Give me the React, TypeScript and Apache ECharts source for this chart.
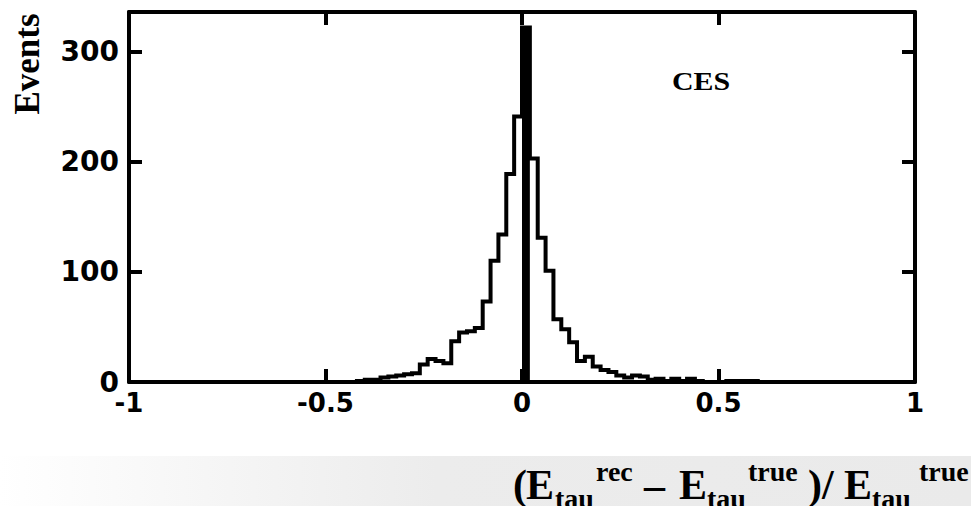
import React, { useEffect, useRef } from "react";
import * as echarts from "echarts";

// Histogram of (E_rec - E_true)/E_true, bin width 0.02 starting at -0.42
const binStart = -0.42;
const binWidth = 0.02;
const counts = [
  1, 2, 2, 4, 5, 6, 7, 8, 16, 21, 19, 17, 37, 45, 46, 49, 73, 110, 134, 189, 241,
  322, 203, 131, 101, 57, 48, 36, 19, 23, 14, 11, 9, 6, 4, 6, 5, 2, 3, 1, 3, 1, 3, 1,
  0, 0, 0, 1, 1, 1, 1,
];
const xTicks = [-1, -0.5, 0, 0.5, 1];
const yTicks = [0, 100, 200, 300];
const yMax = 336;

const serif = "'Liberation Serif', 'Times New Roman', serif";
const sans = "'DejaVu Sans', sans-serif";

export default function App() {
  const ref = useRef<HTMLDivElement>(null);
  useEffect(() => {
    if (!ref.current) return;
    const chart = echarts.init(ref.current, null, { renderer: "svg" });

    const histData: number[][] = [[binStart, 0]];
    counts.forEach((c, i) => histData.push([+(binStart + i * binWidth).toFixed(2), c]));
    histData.push([+(binStart + counts.length * binWidth).toFixed(2), 0]);

    const peak = Math.max(...counts);
    const pk = counts.indexOf(peak);
    const pkLo = +(binStart + pk * binWidth).toFixed(2);
    const pkHi = +(pkLo + binWidth).toFixed(2);

    const axisLine = { onZero: false, lineStyle: { color: "#000", width: 4 } };
    const axisTick = { inside: true, length: 13, lineStyle: { color: "#000", width: 4 } };
    const labelStyle = {
      color: "#000",
      fontFamily: sans,
      fontWeight: "bold" as const,
      fontSize: 26,
    };

    const big = 42;
    const small = 28;
    const mainY = 502 - 0.34 * big - 3;
    const supY = 483 - 0.34 * small - 2;
    const subY = 510 - 0.34 * small - 2;
    const piece = (text: string, x: number, y: number, size: number) => ({
      type: "text",
      x,
      y,
      z: 10,
      style: {
        text,
        x: 0,
        y: 0,
        font: `bold ${size}px ${serif}`,
        lineHeight: Math.round(size * 0.75),
        fill: "#000",
        textAlign: "left",
        textVerticalAlign: "middle",
      },
    });

    chart.setOption({
      animation: false,
      backgroundColor: "#fff",
      grid: { left: 129, right: 56, top: 12, bottom: 124, show: false },
      xAxis: [
        {
          type: "value",
          min: xTicks[0],
          max: xTicks[xTicks.length - 1],
          interval: 0.5,
          position: "bottom",
          axisLine,
          axisTick,
          splitLine: { show: false },
          axisLabel: { ...labelStyle, margin: 8 },
        },
        {
          type: "value",
          min: xTicks[0],
          max: xTicks[xTicks.length - 1],
          interval: 0.5,
          position: "top",
          axisLine,
          axisTick,
          splitLine: { show: false },
          axisLabel: { show: false },
        },
      ],
      yAxis: [
        {
          type: "value",
          min: yTicks[0],
          max: yMax,
          interval: 100,
          position: "left",
          axisLine,
          axisTick,
          splitLine: { show: false },
          axisLabel: { ...labelStyle, fontSize: 28, margin: 10, showMaxLabel: false },
        },
        {
          type: "value",
          min: yTicks[0],
          max: yMax,
          interval: 100,
          position: "right",
          axisLine,
          axisTick,
          splitLine: { show: false },
          axisLabel: { show: false },
        },
      ],
      series: [
        {
          type: "line",
          step: "end",
          symbol: "none",
          data: histData,
          xAxisIndex: 0,
          yAxisIndex: 0,
          lineStyle: { color: "#000", width: 4, join: "miter", cap: "butt" },
          markArea: {
            silent: true,
            itemStyle: { color: "#000" },
            data: [[{ coord: [pkLo, 0] }, { coord: [pkHi, peak] }]],
          },
        },
      ],
      graphic: [
        {
          type: "rect",
          shape: { x: 0, y: 456, width: 971, height: 50 },
          z: 1,
          style: {
            fill: new echarts.graphic.LinearGradient(0, 0, 1, 0, [
              { offset: 0, color: "#ffffff" },
              { offset: 0.45, color: "#ececec" },
              { offset: 1, color: "#eaeaea" },
            ]),
          },
        },
        {
          type: "text",
          x: 27,
          y: 64,
          rotation: Math.PI / 2,
          style: {
            text: "Events",
            font: `bold 35px ${serif}`,
            fill: "#000",
            textAlign: "center",
            textVerticalAlign: "middle",
          },
        },
        {
          type: "text",
          x: 701,
          y: 81,
          scaleX: 1.15,
          style: {
            text: "CES",
            font: `bold 26px ${serif}`,
            fill: "#000",
            textAlign: "center",
            textVerticalAlign: "middle",
          },
        },
        piece("(", 513, mainY, big),
        piece("E", 526, mainY, big),
        piece("tau", 555, subY, small),
        piece("rec", 596, supY, small),
        piece("\u2013", 644, mainY, big),
        piece("E", 679, mainY, big),
        piece("tau", 707, subY, small),
        piece("true", 748, supY, small),
        piece(")/", 808, mainY, big),
        piece("E", 844, mainY, big),
        piece("tau", 872, subY, small),
        piece("true", 919, supY, small),
      ],
    });
    return () => chart.dispose();
  }, []);
  return (
    <div
      ref={ref}
      style={{ position: "fixed", left: 0, top: 0, width: 971, height: 506, background: "#fff" }}
    />
  );
}
